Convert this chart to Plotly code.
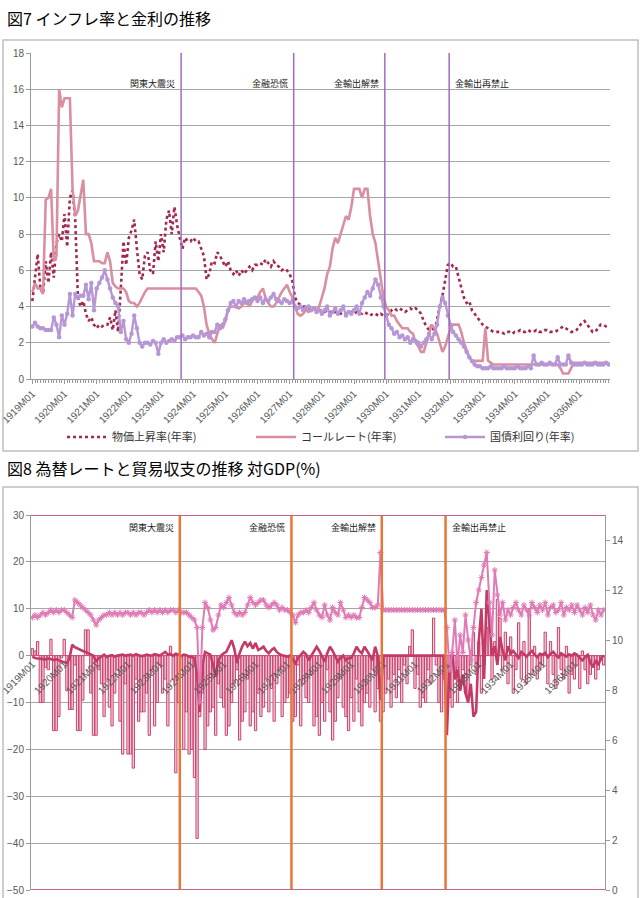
import plotly.graph_objects as go

# ---------------- data ----------------
years = list(range(1919, 1937))
months = [f"{y}M{m:02d}" for y in years for m in range(1, 13)]
tick_labels = [f"{y}M01" for y in years]

infl_name = "物価上昇率(年率)"
call_name = "コールレート(年率)"
bond_name = "国債利回り(年率)"

inflation = (
    [4.3,5.8,6.9,5.0,4.7,6.5,5.3,7.0,5.6,7.5,8.0,7.6] +
    [9.1,7.3,10.0,10.4,8.8,4.5,4.0,4.3,3.6,3.2,3.4,3.0] +
    [2.8,3.0,2.9,3.0,3.0,3.4,2.7,3.8,2.6,5.0,7.6,6.3] +
    [7.8,8.2,8.8,7.2,5.8,5.5,6.8,7.0,6.0,5.8,7.6,6.5] +
    [8.0,7.0,8.8,9.3,8.0,9.5,8.5,7.8,7.2,7.8,7.6,7.6] +
    [7.8,7.6,7.6,7.2,6.8,5.5,5.8,6.5,6.4,7.0,6.8,6.5] +
    [6.2,6.5,6.0,5.8,6.0,5.7,6.0,5.8,6.0,6.2,6.0,6.3] +
    [6.3,6.4,6.3,6.6,6.4,6.2,6.5,6.3,6.2,6.0,6.1,6.0] +
    [5.8,5.4,4.5,4.2,4.1,4.0,4.0,3.9,4.0,3.9,3.9,3.8] +
    [3.8,3.7,3.8,3.7,3.6,3.7,3.7,3.6,3.7,3.6,3.6,3.7] +
    [3.6,3.7,3.6,3.6,3.7,3.6,3.5,3.6,3.6,3.5,3.6,3.5] +
    [3.5,3.6,3.8,3.9,3.8,3.9,3.8,3.7,3.8,3.9,3.8,3.9] +
    [3.8,3.6,3.2,2.9,2.7,3.0,2.6,3.4,4.0,4.6,5.5,6.3] +
    [6.4,6.2,6.2,5.6,5.0,4.5,4.2,4.3,3.8,3.6,3.4,3.2] +
    [3.0,2.9,2.8,2.7,2.6,2.6,2.6,2.6,2.5,2.6,2.6,2.5] +
    [2.6,2.6,2.7,2.6,2.6,2.7,2.6,2.6,2.7,2.6,2.6,2.7] +
    [2.7,2.6,2.6,2.6,2.7,2.8,2.9,2.8,2.7,2.6,2.6,2.7] +
    [2.9,3.1,3.2,3.0,2.8,2.6,2.6,2.8,3.0,3.0,2.9,2.8]
)

call_rate = (
    [4.8,5.3,5.0,5.0,4.7,9.9,10.0,10.5,6.5,6.8,16.0,15.0] +
    [15.5,15.5,15.5,10.5,9.0,9.3,10.2,11.0,8.0,8.0,7.5,6.5] +
    [6.5,6.5,6.4,6.4,7.0,6.5,5.3,5.1,5.0,5.0,5.0,4.8] +
    [4.3,4.2,4.2,4.0,4.2,4.5,4.8,5.0,5.0,5.0,5.0,5.0] +
    [5.0,5.0,5.0,5.0,5.0,5.0,5.0,5.0,5.0,5.0,5.0,5.0] +
    [5.0,5.0,4.8,4.6,4.0,3.0,2.5,2.2,2.0,2.5,3.0,2.8] +
    [3.2,3.8,4.0,4.0,4.0,3.9,4.0,4.2,4.3,4.0,4.3,4.5] +
    [4.5,4.8,5.0,4.5,4.2,4.0,4.0,4.2,4.5,4.8,5.0,5.2] +
    [4.8,4.5,4.0,3.6,3.5,3.6,3.8,3.7,3.8,3.9,3.8,4.0] +
    [4.5,5.0,5.8,6.2,7.2,7.8,7.5,8.0,8.5,9.0,8.8,9.5] +
    [10.5,10.5,10.5,10.0,10.5,10.5,9.0,8.0,7.5,6.5,5.5,4.5] +
    [4.0,3.8,3.5,3.5,3.2,3.0,2.8,2.8,2.8,2.6,2.5,2.0] +
    [1.8,1.5,1.5,2.0,2.5,3.0,2.8,2.5,2.0,1.5,1.8,2.3] +
    [2.8,3.0,3.0,3.0,2.6,2.0,1.6,1.2,1.0,1.0,1.0,1.0] +
    [1.0,2.8,1.0,0.9,0.8,0.8,0.8,0.8,0.8,0.8,0.8,0.8] +
    [0.8,0.8,0.8,0.8,0.8,0.8,0.8,0.8,0.8,0.8,0.8,0.8] +
    [0.8,0.8,0.8,0.8,0.8,0.6,0.3,0.3,0.3,0.6,0.9,0.9] +
    [0.9,0.9,0.9,0.9,0.9,0.9,0.9,0.9,0.9,0.9,0.9,0.9]
)

bond_yield = (
    [2.9,3.1,2.9,2.8,2.8,2.7,2.7,2.7,3.4,3.0,2.3,3.5] +
    [3.0,3.6,4.7,3.5,4.7,4.5,4.6,4.6,5.2,4.4,5.3,3.8] +
    [5.0,5.3,5.6,6.0,5.5,5.0,4.5,4.2,4.0,2.6,3.2,2.2] +
    [2.0,2.5,3.5,2.8,2.0,1.8,2.0,2.0,1.9,2.1,2.0,1.4] +
    [2.0,2.2,2.0,2.1,2.2,2.1,2.3,2.3,2.4,2.2,2.3,2.3] +
    [2.4,2.3,2.3,2.6,2.4,2.5,2.3,2.6,2.6,3.0,2.8,3.0] +
    [3.3,3.8,4.2,4.3,4.0,4.3,4.2,4.4,4.2,4.3,4.4,4.5] +
    [4.3,4.5,4.2,4.4,4.3,4.5,4.7,4.4,4.3,4.2,4.4,4.3] +
    [4.2,4.3,4.0,3.9,4.0,3.8,3.9,4.0,3.8,3.9,3.7,3.8] +
    [3.6,3.8,4.0,3.5,3.7,3.9,3.6,3.8,4.0,3.5,3.7,3.6] +
    [3.8,4.0,3.6,4.2,4.5,4.8,4.6,5.0,5.5,5.2,4.5,4.0] +
    [3.5,3.0,2.8,2.5,2.6,2.3,2.4,2.2,2.3,2.0,2.2,2.1] +
    [2.0,1.8,2.0,2.2,2.5,2.2,2.5,3.0,4.0,4.5,4.2,3.5] +
    [3.0,2.6,2.4,2.2,2.0,1.8,1.5,1.2,1.0,0.8,0.7,0.7] +
    [0.6,0.6,0.6,0.7,0.6,0.6,0.6,0.6,0.7,0.6,0.6,0.6] +
    [0.6,0.7,0.6,0.6,0.6,0.7,0.6,1.3,0.8,0.8,0.9,0.8] +
    [0.8,0.9,0.8,0.8,1.2,0.8,0.8,0.8,1.3,0.9,0.8,0.8] +
    [0.8,0.8,0.9,0.8,0.8,0.8,0.9,0.8,0.8,0.8,0.9,0.8]
)

# bottom chart
bar_name = "貿易収支(対GDP比)"
chg_name = "為替レート変化率"
fx_name = "為替レート(右軸)"

trade_balance = (
    [1.5,1.0,3.0,-10,-10,-2.5,-3,3.5,-16,-16,-13,-0.5] +
    [3.5,-7.5,-11.5,-11.5,-2,-16,-16,-9.5,5.5,5.5,-8,-17] +
    [-17,-3,-6,-13,-5,-11,-15,-8,-3,-14,-21,-6] +
    [-21,-21,-24,-5,-14,-12,-12,-8,-17,-3,-15,-10] +
    [-2,-8,-5,-15,2,-5,-25,-10,-3,-20,-12,-21] +
    [-20,-26,-39,-13,-8,-20,-15,-12,-11,-17,-6,-9] +
    [-11,-17,-15,-10,-6,-3,-18,-14,-12,-5,-15,-12] +
    [-16,-8,-13,-11,-5,-12,-7,-14,-6,-3,-13,-10] +
    [-9,-8,-14,-13,-2,-15,-6,-9,-10,-4,-15,-13] +
    [-17,-10,-14,-3,-12,-18,-14,-9,-5,-11,-13,-16] +
    [-9,-14,-5,-12,-15,-10,-8,-11,-3,-12,-7,-14] +
    [-12,-8,-5,-11,-4,-9,-3,-10,-2,-6,2,5.5] +
    [-7,-4,-11,-9,-10,-3,-6,8,-2,-10,-12,-5] +
    [-12,-9,-11,-5,-10,-7,-3,-8,-9,-2,5,-4] +
    [3,-8,-2,6,10,-5,3,12,8,-3,5,-6] +
    [4,-8,-3,7,-5,3,-6,10,-4,2,-5,-3] +
    [-2,5,-6,3,-4,-7,6,-3,-5,2,-8,-4] +
    [-5,-2,-7,1,-3,-6,-4,-2,-5,-3,-1,-2]
)

fx_change = (
    [-0.2,-0.5,-0.6,-0.7,-0.8,-0.8,-0.6,-0.8,-0.9,-0.8,-1.0,-1.2] +
    [-1.3,-1.6,-0.5,2.3,1.8,1.5,1.2,1.0,0.8,0.5,0.3,0.0] +
    [-1.3,-0.5,-0.2,0.2,-0.3,0.0,0.1,-0.2,0.0,0.1,0.2,0.0] +
    [0.1,0.2,0.0,0.3,0.1,-0.1,0.0,0.2,0.1,0.0,0.3,0.1] +
    [0.0,0.4,0.8,0.2,0.3,0.0,0.4,0.2,-0.1,0.2,0.1,-0.2] +
    [-0.3,-0.5,-4.0,-12.0,-2.0,0.8,0.5,0.2,-2.0,-4.5,-1.0,0.0] +
    [0.5,0.8,2.0,3.3,1.5,-1.6,0.5,2.0,3.0,2.0,2.7,1.5] +
    [2.7,1.2,1.5,1.9,1.0,0.5,1.2,1.6,0.8,0.3,0.1,0.0] +
    [-0.2,0.0,-0.8,-1.6,-0.5,0.2,0.8,0.3,-1.0,0.0,1.0,1.9] +
    [1.0,0.0,-1.3,0.5,1.9,1.0,0.0,-1.3,-0.5,0.0,-1.0,-0.5] +
    [-0.5,0.5,1.9,1.0,0.5,1.9,1.0,0.0,-1.0,1.9,0.0,-9.5] +
    [0.0,0.0,0.0,0.0,0.0,0.0,0.0,0.0,0.0,0.0,0.0,0.0] +
    [0.0,0.0,0.0,0.0,0.0,0.0,0.0,0.0,0.0,0.0,0.0,0.0] +
    [-17,-2,0.5,-5,-3,-7.5,-4,-8,-10,-6,-13,-12] +
    [3,10,-5,14,7.5,0,2,-2,4,1,-1,2] +
    [0.5,1.0,0.2,-0.5,0.8,0.3,-0.2,0.5,1.0,0.2,-0.3,0.4] +
    [0.2,0.6,-0.3,0.4,0.8,0.1,-0.4,0.5,0.2,-0.2,0.3,0.0] +
    [0.5,0.2,-0.5,-1.0,-0.3,0.2,-1.5,-2.5,-1.0,-2.0,-0.5,0.0]
)

fx_level = (
    [10.9,11.0,10.9,11.0,11.1,11.0,11.1,11.2,11.1,11.2,11.1,11.2] +
    [11.2,11.1,11.0,10.9,11.6,11.5,11.4,11.3,11.2,11.1,11.0,10.8] +
    [10.6,10.8,10.9,11.0,11.0,11.1,11.0,11.1,11.0,11.1,11.0,11.1] +
    [11.1,11.0,11.1,11.0,11.1,11.1,11.0,11.1,11.2,11.1,11.2,11.1] +
    [11.2,11.1,11.2,11.1,11.2,11.2,11.1,11.2,11.1,11.1,11.1,11.0] +
    [10.9,10.8,10.5,7.5,10.5,11.5,11.3,10.8,10.4,10.5,11.0,11.4] +
    [11.3,11.5,11.7,11.4,11.1,11.0,11.1,11.0,11.1,11.4,11.7,11.5] +
    [11.4,11.5,11.6,11.6,11.4,11.3,11.4,11.5,11.4,11.2,11.3,11.2] +
    [11.2,11.1,11.0,10.7,11.0,11.1,11.1,11.2,11.1,11.3,11.5,11.2] +
    [11.0,10.9,11.4,11.0,10.8,11.3,11.1,11.0,11.5,11.2,10.9,11.0] +
    [10.9,11.0,10.9,10.9,11.3,11.7,11.6,11.5,11.3,11.3,11.4,13.5] +
    [11.2,11.2,11.2,11.2,11.2,11.2,11.2,11.2,11.2,11.2,11.2,11.2] +
    [11.2,11.2,11.2,11.2,11.2,11.2,11.2,11.2,11.2,11.2,11.2,11.2] +
    [10.5,8.8,9.5,10.8,9.0,10.2,9.5,11.0,10.0,9.2,10.5,11.5] +
    [12.0,12.5,13.0,13.5,11.5,10.2,12.8,11.8,11.0,11.5,10.8,11.2] +
    [11.0,11.3,11.5,11.2,11.0,11.4,11.2,11.0,11.5,11.3,11.1,11.4] +
    [11.2,11.5,11.0,11.3,11.4,11.1,11.2,11.5,11.0,11.3,11.2,11.4] +
    [11.1,11.4,11.2,11.0,11.3,11.1,11.4,11.0,10.8,11.2,11.0,11.2]
)

event_names = ["関東大震災", "金融恐慌", "金輸出解禁", "金輸出再禁止"]
event_months = ["1923M09", "1927M03", "1930M01", "1932M01"]

title1 = "図7 インフレ率と金利の推移"
title2 = "図8 為替レートと貿易収支の推移 対GDP(%)"

# ---------------- figure ----------------
W, H = 642, 898
FONT = "Noto Sans CJK JP, Liberation Sans, Arial"
x = list(range(len(months)))
tickvals = [months.index(t) for t in tick_labels]
ev_x = [months.index(m) - 0.5 for m in event_months]

def px_x(p): return p / W
def px_y(p): return 1 - p / H

top_dom_y = [px_y(379), px_y(53)]
bot_dom_y = [px_y(890), px_y(515)]
top_dom_x = [px_x(31), px_x(610)]
bot_dom_x = [px_x(31), px_x(605)]

fig = go.Figure()

fig.add_trace(go.Scatter(x=x, y=inflation, name=infl_name, mode="lines",
                         line=dict(color="#a3284f", width=2.6, dash="dot"),
                         xaxis="x", yaxis="y"))
fig.add_trace(go.Scatter(x=x, y=call_rate, name=call_name, mode="lines",
                         line=dict(color="#d98f9f", width=2.6),
                         xaxis="x", yaxis="y"))
fig.add_trace(go.Scatter(x=x, y=bond_yield, name=bond_name, mode="lines+markers",
                         line=dict(color="#b796d6", width=2.4),
                         marker=dict(size=4.5, color="#b796d6"),
                         xaxis="x", yaxis="y"))

fig.add_trace(go.Bar(x=x, y=trade_balance, name=bar_name, showlegend=False,
                     marker=dict(color="#f6cfdc", line=dict(color="#c8436e", width=1)),
                     xaxis="x2", yaxis="y2"))
fig.add_trace(go.Scatter(x=x, y=fx_level, name=fx_name, mode="lines+markers", showlegend=False,
                         line=dict(color="#e07ab5", width=2),
                         marker=dict(symbol="asterisk-open", size=5, color="#e07ab5",
                                     line=dict(color="#e07ab5", width=1)),
                         xaxis="x2", yaxis="y4"))
fig.add_trace(go.Scatter(x=x, y=fx_change, name=chg_name, mode="lines", showlegend=False,
                         line=dict(color="#c43a66", width=2.6),
                         xaxis="x2", yaxis="y2"))

shapes = []
annotations = []
# frames
shapes.append(dict(type="rect", xref="paper", yref="paper", x0=px_x(3), x1=px_x(638),
                   y0=px_y(451), y1=px_y(40), line=dict(color="#bfbfbf", width=1.5)))
shapes.append(dict(type="rect", xref="paper", yref="paper", x0=px_x(3), x1=px_x(638),
                   y0=px_y(905), y1=px_y(487), line=dict(color="#bfbfbf", width=1.5)))
# event lines
for i, ex in enumerate(ev_x):
    shapes.append(dict(type="line", xref="x", yref="y domain", x0=ex, x1=ex, y0=0, y1=1,
                       line=dict(color="#a16bbd", width=1.5)))
    shapes.append(dict(type="line", xref="x2", yref="y2 domain", x0=ex, x1=ex, y0=0, y1=1,
                       line=dict(color="#e8763a", width=2.5)))
    left = i < 3
    for xr, yp in (("x", px_y(75)), ("x2", px_y(527))):
        annotations.append(dict(x=ex, xref=xr, y=yp, yref="paper", text=event_names[i],
                                showarrow=False, xanchor="right" if left else "left",
                                xshift=-4 if left else 4,
                                font=dict(size=9, color="#222", family=FONT)))
# bottom chart top/bottom borders in rose
for yv in (30, -50):
    shapes.append(dict(type="line", xref="x2 domain", yref="y2", x0=0, x1=1, y0=yv, y1=yv,
                       line=dict(color="#c8608a", width=2)))

annotations.append(dict(x=px_x(5), y=px_y(18), xref="paper", yref="paper", text=title1,
                        showarrow=False, xanchor="left", yanchor="middle",
                        font=dict(size=16, color="#000", family=FONT)))
annotations.append(dict(x=px_x(5), y=px_y(468), xref="paper", yref="paper", text=title2,
                        showarrow=False, xanchor="left", yanchor="middle",
                        font=dict(size=16, color="#000", family=FONT)))

axis_font = dict(size=10, color="#595959", family="Liberation Sans, Arial")
zero_pos = bot_dom_y[0] + (0 - (-50)) / 80 * (bot_dom_y[1] - bot_dom_y[0])

fig.update_layout(
    template="none",
    width=W, height=H, margin=dict(l=0, r=0, t=0, b=0, autoexpand=False),
    paper_bgcolor="white", plot_bgcolor="white",
    font=dict(family=FONT, color="#333"),
    shapes=shapes, annotations=annotations,
    bargap=0.15,
    showlegend=True,
    legend=dict(orientation="h", x=px_x(62), xanchor="left", y=px_y(437), yanchor="middle",
                entrywidth=134, itemwidth=40, font=dict(size=11, color="#333", family=FONT),
                bgcolor="rgba(0,0,0,0)"),
    xaxis=dict(domain=top_dom_x, anchor="y", range=[-0.5, 215.5], automargin=False,
               tickmode="array", tickvals=tickvals, ticktext=tick_labels, tickangle=-45,
               tickfont=axis_font, showgrid=False, zeroline=False,
               showline=True, linecolor="#999", linewidth=1,
               ticks="outside", ticklen=4, tickcolor="#999",
               minor=dict(ticks="outside", dtick=1, tick0=0, ticklen=3, tickcolor="#999")),
    yaxis=dict(domain=top_dom_y, anchor="x", range=[0, 18], dtick=2, automargin=False,
               tickfont=axis_font, showgrid=True, gridcolor="#a6a6a6", gridwidth=1,
               zeroline=False, showline=True, linecolor="#999",
               ticks="outside", ticklen=4, tickcolor="#999"),
    yaxis3=dict(overlaying="y", side="right", anchor="x", range=[0, 10], dtick=1, automargin=False,
                showticklabels=False, showgrid=False, zeroline=False,
                showline=True, linecolor="#999", ticks="outside", ticklen=4, tickcolor="#999"),
    xaxis2=dict(domain=bot_dom_x, anchor="free", position=zero_pos, range=[-0.5, 215.5],
                automargin=False,
                tickmode="array", tickvals=tickvals, ticktext=tick_labels, tickangle=-45,
                tickfont=axis_font, showgrid=False, zeroline=False, showline=False,
                ticks=""),
    yaxis2=dict(domain=bot_dom_y, anchor="x2", range=[-50, 30], dtick=10, automargin=False,
                tickfont=axis_font, showgrid=True, gridcolor="#a6a6a6", gridwidth=1,
                zeroline=False, showline=True, linecolor="#999",
                ticks="outside", ticklen=4, tickcolor="#999"),
    yaxis4=dict(overlaying="y2", side="right", anchor="x2", range=[0, 15], automargin=False,
                tickmode="array", tickvals=[0, 2, 4, 6, 8, 10, 12, 14],
                tickfont=axis_font, showgrid=False, zeroline=False,
                showline=True, linecolor="#999", ticks="outside", ticklen=4, tickcolor="#999"),
)

fig.write_html("out.html")
